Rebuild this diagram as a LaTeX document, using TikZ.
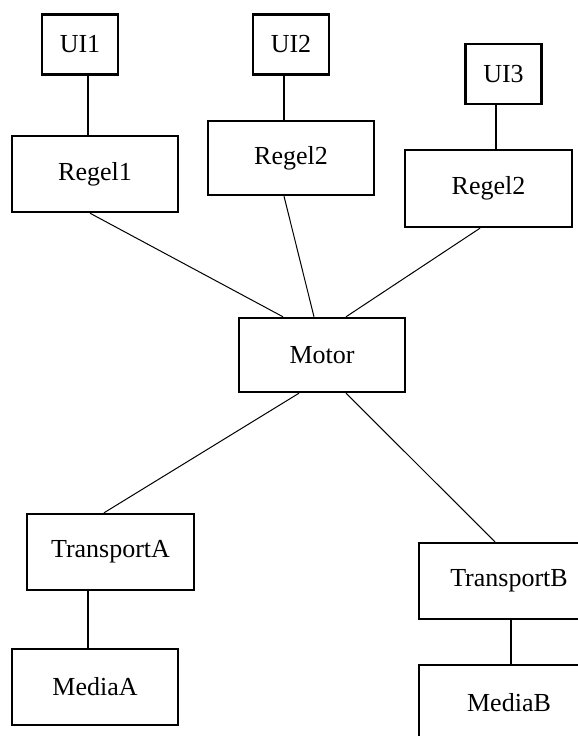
\documentclass[tikz,border=0pt]{standalone}
\usepackage{fontspec}
\setmainfont{Liberation Serif}
\usetikzlibrary{positioning}

\begin{document}
\begin{tikzpicture}[
            x=1pt, y=-1pt,
            % styles
            block/.style={rectangle, draw=black, line width=2.4pt, minimum width=166pt, minimum height=76pt, inner sep=0pt, text centered, font=\fontsize{26}{30}\selectfont, align=center},
            uiblock/.style={block, minimum width=76pt, minimum height=60pt},
            stem/.style={line width=2.4pt},
            link/.style={line width=1pt}
        ]

        \clip (0,0) rectangle (578,736);

        % top row: user interfaces
        \node (ui1) [uiblock] at (80,44.5) {UI1};
        \node (ui2) [uiblock] at (291,44.5) {UI2};
        \node (ui3) [uiblock] at (503.5,74) {UI3};

        % second row: rules
        \node (regel1) [block] at (95,174) {Regel1};
        \node (regel2) [block, minimum height=74pt] at (291,158) {Regel2};
        \node (regel3) [block, minimum width=167pt, minimum height=77pt] at (488.5,188.5) {Regel2};

        % centre
        \node (motor) [block, minimum height=74pt] at (322,355) {Motor};

        % bottom: transports and media
        \node (transA) [block, minimum width=167pt] at (110.5,552) {TransportA};
        \node (transB) [block, minimum width=180pt] at (509,581) {TransportB};
        \node (mediaA) [block] at (95,687) {MediaA};
        \node (mediaB) [block, minimum width=180pt] at (509,703) {MediaB};

        % connections ui -- regel
        \draw [stem] ([xshift=8pt]ui1.south) -- ([xshift=-7pt]regel1.north);
        \draw [stem] ([xshift=-7pt]ui2.south) -- ([xshift=-7pt]regel2.north);
        \draw [stem] ([xshift=-7.5pt]ui3.south) -- ([xshift=7.5pt]regel3.north);

        % connections regel -- motor
        \draw [link] ([xshift=-5pt]regel1.south) -- ([xshift=-39pt]motor.north);
        \draw [link] ([xshift=-7pt]regel2.south) -- ([xshift=-8pt]motor.north);
        \draw [link] ([xshift=-8.5pt]regel3.south) -- ([xshift=24pt]motor.north);

        % connections motor -- transport
        \draw [link] ([xshift=-23pt]motor.south) -- ([xshift=-6.5pt]transA.north);
        \draw [link] ([xshift=24pt]motor.south) -- ([xshift=-14pt]transB.north);

        % connections transport -- media
        \draw [stem] ([xshift=-22.5pt]transA.south) -- ([xshift=-7pt]mediaA.north);
        \draw [stem] ([xshift=2pt]transB.south) -- ([xshift=2pt]mediaB.north);

\end{tikzpicture}
\end{document}
